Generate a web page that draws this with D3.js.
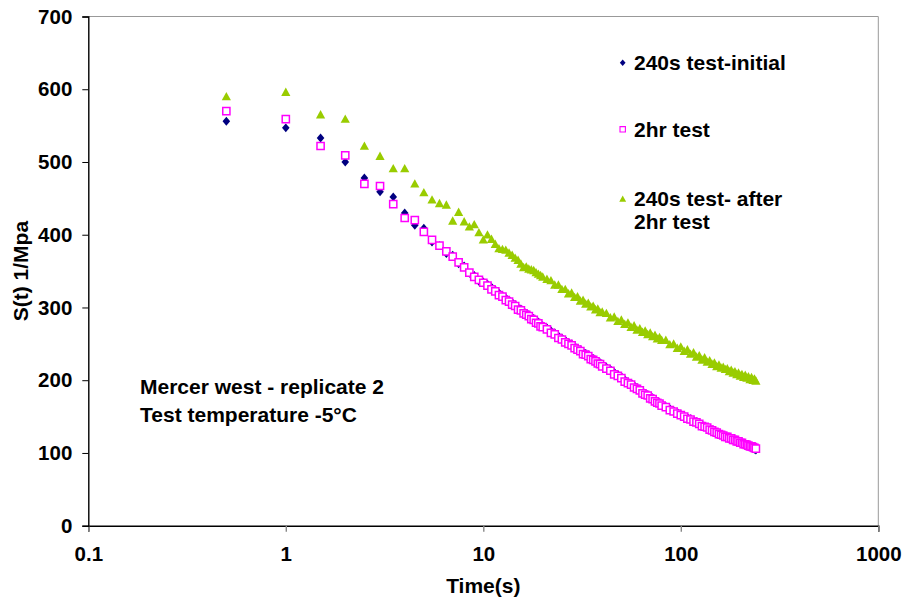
<!DOCTYPE html>
<html>
<head>
<meta charset="utf-8">
<script src="https://cdn.jsdelivr.net/npm/d3@7"></script>
<style>
  body { margin: 0; background: #fff; }
  svg { display: block; font-family: "Liberation Sans", Arial, sans-serif; font-weight: bold; }
</style>
</head>
<body>
<svg></svg>
<script>
const width = 903;
const height = 601;
const margin = { top: 16.5, right: 24.7, bottom: 75.3, left: 88.3 };

// sample times (s)
const times = [0.5,1,1.5,2,2.5,3,3.5,4,4.5,5,5.5,6,6.5,7,7.5,8,8.5,9,9.5,10,
  10.5,11,11.5,12,12.5,13,13.5,14,14.5,15,15.5,16,16.5,17,17.5,18,18.5,19,19.5,20,
  21,22,23,24,25,26,27,28,29,30,31,32,33,34,35,36,37,38,39,40,
  42,44,46,48,50,52,54,56,58,60,62,64,66,68,70,72,74,76,78,80,
  84,88,92,96,100,104,108,112,116,120,124,128,132,136,140,144,148,152,156,160,
  164,168,172,176,180,184,188,192,196,200,204,208,212,216,220,224,228,232,236,240];

const initialVals = [556,547,533,500,478,459,452,430,413,409,390,385,374,372,360,357,347,344,336,335,
  332,328,324,320,316,313,310,307,304,300,298,295,292,290,287,285,282,280,277,275,
  272,268,265,261,258,255,252,250,247,244,242,239,237,235,232,230,228,226,224,222,
  218,215,211,208,205,201,198,196,193,190,188,185,182,180,178,176,173,171,169,167,
  164,161,158,156,153,151,149,147,145,143,141,139,137,135,133,132,130,128,127,125,
  124,123,121,120,119,118,117,116,115,114,113,112,111,110,109,108,107,106,105,104];

const twoHrVals = [570,559,522,509,470,467,442,423,420,404,393,385,377,370,362,355,348,342,338,334,
  330,325,322,317,315,310,308,304,302,297,296,292,290,288,284,283,279,278,274,273,
  270,265,263,258,256,252,250,248,244,242,240,236,235,233,229,228,226,223,222,219,
  216,213,208,206,203,198,196,194,190,188,186,182,180,179,175,174,171,169,168,165,
  163,159,157,154,152,150,147,146,143,142,140,137,136,135,132,131,129,128,126,125,
  124,122,122,120,120,118,118,116,116,114,114,112,112,111,110,109,109,108,107,106];

const afterVals = [590,596,565,559,522,508,491,491,470,458,448,443,441,419,431,418,411,414,403,393,
  400,394,387,381,380,379,375,372,368,365,360,355,356,353,352,351,348,346,344,342,
  339,337,331,331,325,325,319,320,314,315,309,310,305,306,301,302,297,298,293,294,
  292,286,287,281,283,277,279,273,275,269,271,266,268,263,265,260,262,257,259,255,
  255,249,250,244,246,240,242,236,238,232,234,228,231,225,227,222,224,219,221,217,
  218,215,216,212,214,210,212,208,210,206,208,204,207,203,205,201,204,200,202,199];

const xTicks = [0.1, 1, 10, 100, 1000];
const yTicks = [0, 100, 200, 300, 400, 500, 600, 700];
const legendLabels = [["240s test-initial"], ["2hr test"], ["240s test- after", "2hr test"]];
const noteLines = ["Mercer west - replicate 2", "Test temperature -5\u00B0C"];

const svg = d3.select('svg')
  .attr('width', width)
  .attr('height', height);

const x = d3.scaleLog().domain([0.1, 1000]).range([margin.left, width - margin.right]);
const y = d3.scaleLinear().domain([0, 700]).range([height - margin.bottom, margin.top]);

// frame: gray top/right
svg.append('line')
  .attr('x1', x(0.1)).attr('x2', x(1000))
  .attr('y1', y(700)).attr('y2', y(700))
  .attr('stroke', '#999').attr('stroke-width', 1);
svg.append('line')
  .attr('x1', x(1000)).attr('x2', x(1000))
  .attr('y1', y(700)).attr('y2', y(0))
  .attr('stroke', '#999').attr('stroke-width', 1);

const xAxis = svg.append('g')
  .attr('transform', `translate(0,${y(0)})`)
  .call(d3.axisBottom(x).tickValues(xTicks).tickFormat(d => d).tickSize(6).tickPadding(15));
const yAxis = svg.append('g')
  .attr('transform', `translate(${x(0.1)},0)`)
  .call(d3.axisLeft(y).tickValues(yTicks).tickSize(6).tickPadding(10));

[xAxis, yAxis].forEach(g => {
  g.select('.domain').attr('stroke', '#000').attr('stroke-width', 1.4);
  g.selectAll('.tick text')
    .attr('fill', '#000')
    .style('font-size', '20.5px')
    .style('font-family', '"Liberation Sans", Arial, sans-serif')
    .style('font-weight', 'bold');
});
xAxis.selectAll('.tick line').attr('stroke', '#888').attr('stroke-width', 1.4);
yAxis.selectAll('.tick line').attr('stroke', '#000').attr('stroke-width', 1);

// axis titles
svg.append('text')
  .attr('x', x(10)).attr('y', 593)
  .attr('text-anchor', 'middle')
  .style('font-size', '21px')
  .text('Time(s)');
svg.append('text')
  .attr('transform', `translate(28,${(y(0) + y(700)) / 2}) rotate(-90)`)
  .attr('text-anchor', 'middle')
  .style('font-size', '21px')
  .text('S(t) 1/Mpa');

// marker shapes
const diamond = 'M0,-4.4L3.8,0L0,4.4L-3.8,0Z';
const square = 'M-3.6,-3.6H3.6V3.6H-3.6Z';
const triangle = 'M0,-4.6L4.6,3.8L-4.6,3.8Z';

const series = [
  { vals: initialVals, path: diamond, fill: '#000080', stroke: 'none', sw: 0 },
  { vals: twoHrVals, path: square, fill: '#fff', stroke: '#ff00ff', sw: 1.5 },
  { vals: afterVals, path: triangle, fill: '#99cc00', stroke: 'none', sw: 0 }
];

series.forEach(s => {
  svg.append('g').selectAll('path')
    .data(times.map((t, i) => [t, s.vals[i]]))
    .enter()
    .append('path')
      .attr('d', s.path)
      .attr('transform', d => `translate(${x(d[0])},${y(d[1])})`)
      .attr('fill', s.fill)
      .attr('stroke', s.stroke)
      .attr('stroke-width', s.sw);
});

// legend
const legendY = [62.7, 129.3, 199];
const legend = svg.append('g');
series.forEach((s, i) => {
  legend.append('path')
    .attr('d', s.path)
    .attr('transform', `translate(622.7,${legendY[i]}) scale(0.75)`)
    .attr('fill', s.fill)
    .attr('stroke', s.stroke)
    .attr('stroke-width', s.sw);
  legendLabels[i].forEach((line, j) => {
    legend.append('text')
      .attr('x', 634)
      .attr('y', legendY[i] + 7.3 + j * 22.6)
      .style('font-size', '21px')
      .text(line);
  });
});

// note
noteLines.forEach((line, i) => {
  svg.append('text')
    .attr('x', 140)
    .attr('y', 393.5 + i * 28)
    .style('font-size', '21px')
    .text(line);
});
</script>
</body>
</html>
